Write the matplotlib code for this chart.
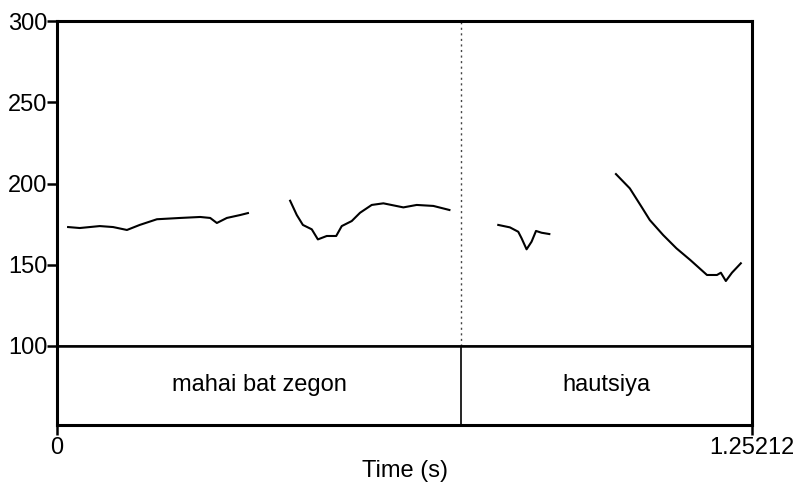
import matplotlib
matplotlib.use("Agg")
import matplotlib.pyplot as plt

plt.rcParams['font.family'] = ['Liberation Sans', 'DejaVu Sans']

# pitch track (time in s, F0 in Hz), one list per voiced stretch
seg1_t = [0.020, 0.041, 0.077, 0.101, 0.126, 0.149, 0.180, 0.222, 0.258, 0.276, 0.288, 0.306, 0.330, 0.344]
seg1_f = [173.2, 172.6, 173.8, 173.2, 171.4, 174.5, 178.0, 178.8, 179.4, 178.8, 175.7, 178.8, 180.6, 181.8]
seg2_t = [0.420, 0.432, 0.443, 0.459, 0.470, 0.486, 0.503, 0.513, 0.531, 0.546, 0.567, 0.588, 0.624, 0.648, 0.678, 0.707]
seg2_f = [189.4, 180.6, 174.5, 171.8, 165.6, 167.7, 167.7, 173.8, 176.9, 182.0, 186.8, 187.8, 185.3, 186.8, 186.2, 183.7]
seg3_t = [0.795, 0.816, 0.831, 0.837, 0.846, 0.855, 0.863, 0.873, 0.887]
seg3_f = [174.5, 173.0, 170.3, 166.3, 159.5, 164.2, 170.8, 169.7, 168.9]
seg4_t = [1.007, 1.032, 1.053, 1.068, 1.092, 1.116, 1.141, 1.171, 1.189, 1.196, 1.205, 1.216, 1.232]
seg4_f = [205.8, 197.0, 185.7, 177.5, 168.3, 160.1, 152.9, 143.7, 143.7, 145.1, 140.0, 145.1, 150.9]

t_end = 1.25212
boundary = 0.728
words = ["mahai bat zegon", "hautsiya"]
word_starts = [0.0, boundary]
word_ends = [boundary, t_end]

fig = plt.figure(figsize=(8, 4.91), dpi=100)
W, H = 800, 491
x0, x1 = 57, 752
ax = fig.add_axes([x0 / W, (H - 346) / H, (x1 - x0) / W, 325 / H])
tier = fig.add_axes([x0 / W, (H - 425) / H, (x1 - x0) / W, 79 / H])

for t, f in [(seg1_t, seg1_f), (seg2_t, seg2_f), (seg3_t, seg3_f), (seg4_t, seg4_f)]:
    ax.plot(t, f, color='black', lw=1.5)
ax.axvline(boundary, color='#444444', lw=1.0, ls=(0, (1.5, 2.5)))

ax.set_xlim(0, t_end)
ax.set_ylim(100, 300)
ax.set_yticks([100, 150, 200, 250, 300])
ax.set_xticks([])
ax.tick_params(axis='y', length=7, width=1.8, labelsize=17, pad=0)
for s in ['left', 'top', 'right']:
    ax.spines[s].set_linewidth(2.2)
ax.spines['bottom'].set_linewidth(1.8)

tier.set_xlim(0, t_end)
tier.set_ylim(0, 1)
tier.axvline(boundary, color='black', lw=1.2)
for w, a, b in zip(words, word_starts, word_ends):
    tier.text((a + b) / 2, 0.5, w, ha='center', va='center', fontsize=17)
tier.set_yticks([])
tier.set_xticks([0, t_end])
tier.set_xticklabels(['0', '1.25212'])
tier.tick_params(axis='x', length=7, width=1.8, labelsize=17, pad=2)
tier.set_xlabel('Time (s)', fontsize=17, labelpad=0)
for s in ['left', 'right', 'bottom']:
    tier.spines[s].set_linewidth(2.2)
tier.spines['top'].set_linewidth(1.8)

fig.savefig('out.png', dpi=100)
